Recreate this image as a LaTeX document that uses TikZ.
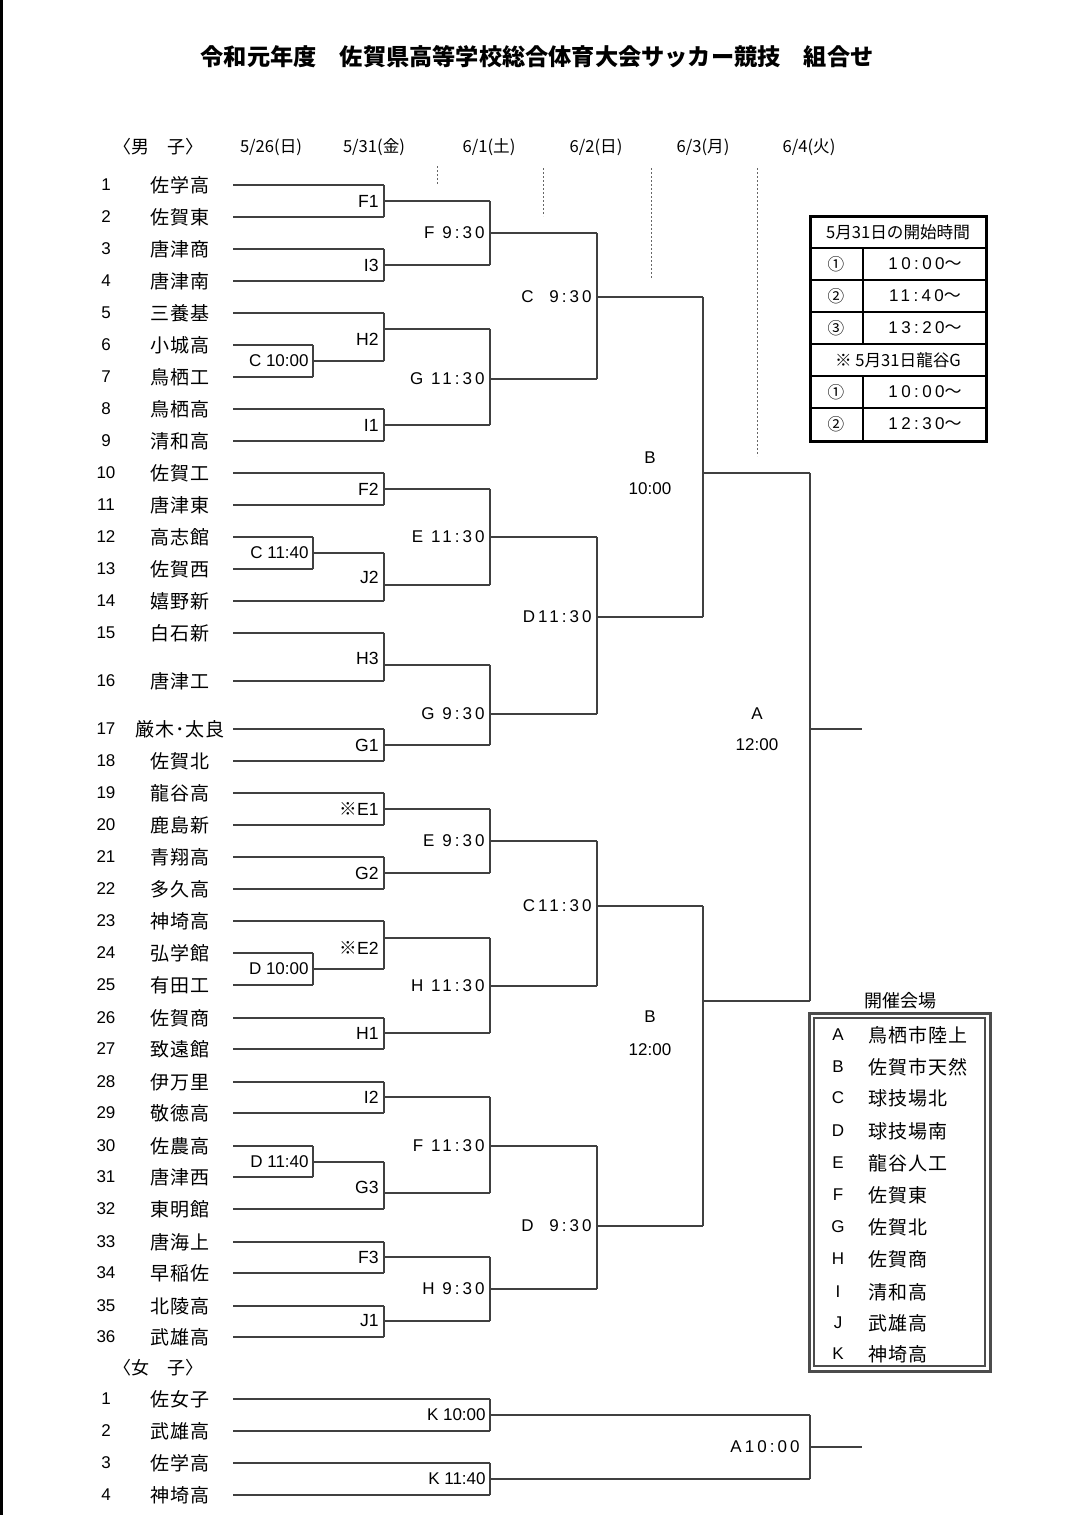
\documentclass[tikz,border=0pt]{standalone}
\usepackage{fontspec}
\setmainfont{Noto Sans CJK JP}
\newfontfamily\latin{Liberation Sans}
\newfontfamily\jp{Noto Sans CJK JP}

% one bracket: x of the bar, top, bottom, y of the way out, end of the way out, y of the label, label, name
\newcommand{\bracket}[8]{%
  \draw[line] (#1,#2) -- (#1,#3);
  \draw[line] (#1,#4) -- (#5,#4);
  \node[match] (#8) at (#1-5,#6) {#7};
}
\newcommand{\kome}{{\jp ※}}
\newcommand{\nami}{{\jp ～}}

\begin{document}
\begin{tikzpicture}[x=0.5pt,y=-0.5pt,
    line/.style={draw=black!75, line width=1pt},
    guide/.style={draw=black!60, line width=0.5pt, dash pattern=on 1.2pt off 0.8pt},
    title/.style={font=\fontsize{11.6}{13}\selectfont\bfseries, inner sep=0pt},
    head/.style={font=\fontsize{8.3}{10}\selectfont, inner sep=0pt},
    team/.style={font=\fontsize{9.5}{11}\selectfont\addfontfeature{LetterSpace=5}, inner sep=0pt},
    num/.style={font=\latin\fontsize{8.5}{10}\selectfont, inner sep=0pt},
    match/.style={font=\latin\fontsize{8.5}{10}\selectfont\addfontfeature{LetterSpace=18}, anchor=east, inner sep=0pt},
    prelim/.style={font=\latin\fontsize{8.5}{10}\selectfont, anchor=east, inner sep=0pt},
    roundlbl/.style={font=\latin\fontsize{8.5}{10}\selectfont, inner sep=0pt},
    cell/.style={font=\fontsize{8.3}{10}\selectfont, inner sep=0pt},
    celltime/.style={font=\latin\fontsize{8.5}{10}\selectfont\addfontfeature{LetterSpace=20}, inner sep=0pt},
  ]
\useasboundingbox (0,0) rectangle (1077,1515);
\fill[black] (0,0) rectangle (3,1515);

% title and days
\node[title] (title) at (537,57) {令和元年度　佐賀県高等学校総合体育大会サッカー競技　組合せ};
\node[head, font=\fontsize{9}{10}\selectfont] (boys) at (158,147) {〈男　子〉};
\node[head] (d1) at (271,147) {5/26(日)};
\node[head] (d2) at (374,147) {5/31(金)};
\node[head] (d3) at (489,147) {6/1(土)};
\node[head] (d4) at (596,147) {6/2(日)};
\node[head] (d5) at (703,147) {6/3(月)};
\node[head] (d6) at (809,147) {6/4(火)};
\draw[guide] (437,166) -- (437,185);
\draw[guide] (543,168) -- (543,216);
\draw[guide] (651,168) -- (651,278);
\draw[guide] (757,168) -- (757,456);

% boys' teams
\foreach \n/\y/\name/\xe in {1/185/佐学高/384, 2/217/佐賀東/384, 3/249/唐津商/384,
    4/281/唐津南/384, 5/313/三養基/384, 6/345/小城高/313, 7/377/鳥栖工/313,
    8/409/鳥栖高/384, 9/441/清和高/384, 10/473/佐賀工/384, 11/505/唐津東/384,
    12/537/高志館/313, 13/569/佐賀西/313, 14/601/嬉野新/384, 15/633/白石新/384,
    16/681/唐津工/384, 17/729/厳木･太良/384, 18/761/佐賀北/384, 19/793/龍谷高/384,
    20/825/鹿島新/384, 21/857/青翔高/384, 22/889/多久高/384, 23/921/神埼高/384,
    24/953/弘学館/313, 25/985/有田工/313, 26/1018/佐賀商/384, 27/1049/致遠館/384,
    28/1082/伊万里/384, 29/1113/敬徳高/384, 30/1146/佐農高/313, 31/1177/唐津西/313,
    32/1209/東明館/384, 33/1242/唐海上/384, 34/1273/早稲佐/384, 35/1306/北陵高/384,
    36/1337/武雄高/384} {
  \node[num] (n\n) at (106,\y) {\n};
  \node[team] (t\n) at (180,\y) {\name};
  \draw[line] (233,\y) -- (\xe,\y);
}

% 5/26
\draw[line] (313,345) -- (313,377);
\draw[line] (313,361) -- (384,361);
\node[prelim] (c1000) at (309,361) {C 10:00};
\draw[line] (313,537) -- (313,569);
\draw[line] (313,553) -- (384,553);
\node[prelim] (c1140) at (309,553) {C 11:40};
\draw[line] (313,953) -- (313,985);
\draw[line] (313,969) -- (384,969);
\node[prelim] (d1000) at (309,969) {D 10:00};
\draw[line] (313,1146) -- (313,1177);
\draw[line] (313,1162) -- (384,1162);
\node[prelim] (d1140) at (309,1162) {D 11:40};

% 5/31
\begin{scope}[match/.style={prelim, font=\latin\fontsize{8.8}{10}\selectfont}]
\bracket{384}{185}{217}{201}{490}{201}{F1}{f1}
\bracket{384}{249}{281}{265}{490}{265}{I3}{i3}
\bracket{384}{313}{361}{329}{490}{339}{H2}{h2}
\bracket{384}{409}{441}{425}{490}{425}{I1}{i1}
\bracket{384}{473}{505}{489}{490}{489}{F2}{f2}
\bracket{384}{553}{601}{585}{490}{577}{J2}{j2}
\bracket{384}{633}{681}{665}{490}{658}{H3}{h3}
\bracket{384}{729}{761}{745}{490}{745}{G1}{g1}
\bracket{384}{793}{825}{809}{490}{809}{\kome E1}{e1}
\bracket{384}{857}{889}{873}{490}{873}{G2}{g2}
\bracket{384}{921}{969}{938}{490}{948}{\kome E2}{e2}
\bracket{384}{1018}{1049}{1033}{490}{1033}{H1}{h1}
\bracket{384}{1082}{1113}{1097}{490}{1097}{I2}{i2}
\bracket{384}{1162}{1209}{1193}{490}{1187}{G3}{g3}
\bracket{384}{1242}{1273}{1257}{490}{1257}{F3}{f3}
\bracket{384}{1306}{1337}{1321}{490}{1321}{J1}{j1}
\end{scope}

% 6/1
\bracket{490}{201}{265}{233}{597}{233}{F 9:30}{f930}
\bracket{490}{329}{425}{379}{597}{379}{G 11:30}{g1130}
\bracket{490}{489}{585}{537}{597}{537}{E 11:30}{e1130}
\bracket{490}{665}{745}{714}{597}{714}{G 9:30}{g930}
\bracket{490}{809}{873}{841}{597}{841}{E 9:30}{e930}
\bracket{490}{938}{1033}{986}{597}{986}{H 11:30}{h1130}
\bracket{490}{1097}{1193}{1146}{597}{1146}{F 11:30}{f1130}
\bracket{490}{1257}{1321}{1289}{597}{1289}{H 9:30}{h930}

% 6/2
\bracket{597}{233}{379}{297}{703}{297}{C\ \ 9:30}{c930}
\bracket{597}{537}{714}{617}{703}{617}{D11:30}{d1130}
\bracket{597}{841}{986}{906}{703}{906}{C11:30}{c1130}
\bracket{597}{1146}{1289}{1226}{703}{1226}{D\ \ 9:30}{d930}

% 6/3 and 6/4
\draw[line] (703,297) -- (703,617);
\draw[line] (703,473) -- (810,473);
\node[roundlbl] (b1) at (650,458) {B};
\node[roundlbl] (b1t) at (650,489) {10:00};
\draw[line] (703,906) -- (703,1226);
\draw[line] (703,1001) -- (810,1001);
\node[roundlbl] (b2) at (650,1017) {B};
\node[roundlbl] (b2t) at (650,1050) {12:00};
\draw[line] (810,473) -- (810,1001);
\draw[line] (810,729) -- (862,729);
\node[roundlbl] (a1) at (757,714) {A};
\node[roundlbl] (a1t) at (757,745) {12:00};

% girls
\node[head, font=\fontsize{9}{10}\selectfont] (girls) at (158,1368) {〈女　子〉};
\foreach \n/\y/\name in {1/1399/佐女子, 2/1431/武雄高, 3/1463/佐学高, 4/1495/神埼高} {
  \node[num] (wn\n) at (106,\y) {\n};
  \node[team] (wt\n) at (180,\y) {\name};
  \draw[line] (233,\y) -- (490,\y);
}
\draw[line] (490,1399) -- (490,1431);
\draw[line] (490,1415) -- (810,1415);
\node[prelim] (k1000) at (486,1415) {K 10:00};
\draw[line] (490,1463) -- (490,1495);
\draw[line] (490,1479) -- (810,1479);
\node[prelim] (k1140) at (486,1479) {K 11:40};
\draw[line] (810,1415) -- (810,1479);
\draw[line] (810,1447) -- (862,1447);
\node[match] (wa) at (800,1447) {A10:00};

% start times on 5/31
\draw[black, line width=1.5pt] (810,216) rectangle (986,441);
\foreach \y in {248,280,312,376,408} \draw[black, line width=0.6pt] (810,\y) -- (986,\y);
\draw[black, line width=1.4pt] (810,344) -- (986,344);
\draw[black, line width=0.6pt] (863,248) -- (863,344);
\draw[black, line width=0.6pt] (863,376) -- (863,441);
\node[cell] (tt) at (898,232) {5月31日の開始時間};
\node[cell] (tt1) at (836,264) {①};
\node[celltime] (tt1t) at (925,264) {10:00\nami};
\node[cell] (tt2) at (836,296) {②};
\node[celltime] (tt2t) at (925,296) {11:40\nami};
\node[cell] (tt3) at (836,328) {③};
\node[celltime] (tt3t) at (925,328) {13:20\nami};
\node[cell] (ty) at (898,360) {※ 5月31日龍谷G};
\node[cell] (ty1) at (836,392) {①};
\node[celltime] (ty1t) at (925,392) {10:00\nami};
\node[cell] (ty2) at (836,424) {②};
\node[celltime] (ty2t) at (925,424) {12:30\nami};

% venues
\node[head, font=\fontsize{9}{10}\selectfont] (venues) at (900,1001) {開催会場};
\draw[black!70, line width=1.5pt] (809,1013) rectangle (990,1371);
\draw[black!70, line width=0.6pt] (814,1018) rectangle (985,1366);
\foreach \l/\y/\v in {A/1035/鳥栖市陸上, B/1067/佐賀市天然, C/1098/球技場北,
    D/1131/球技場南, E/1163/龍谷人工, F/1195/佐賀東, G/1227/佐賀北,
    H/1259/佐賀商, I/1292/清和高, J/1323/武雄高, K/1354/神埼高} {
  \node[num] (vl\l) at (838,\y) {\l};
  \node[team, anchor=west] (vn\l) at (868,\y) {\v};
}
\end{tikzpicture}
\end{document}
